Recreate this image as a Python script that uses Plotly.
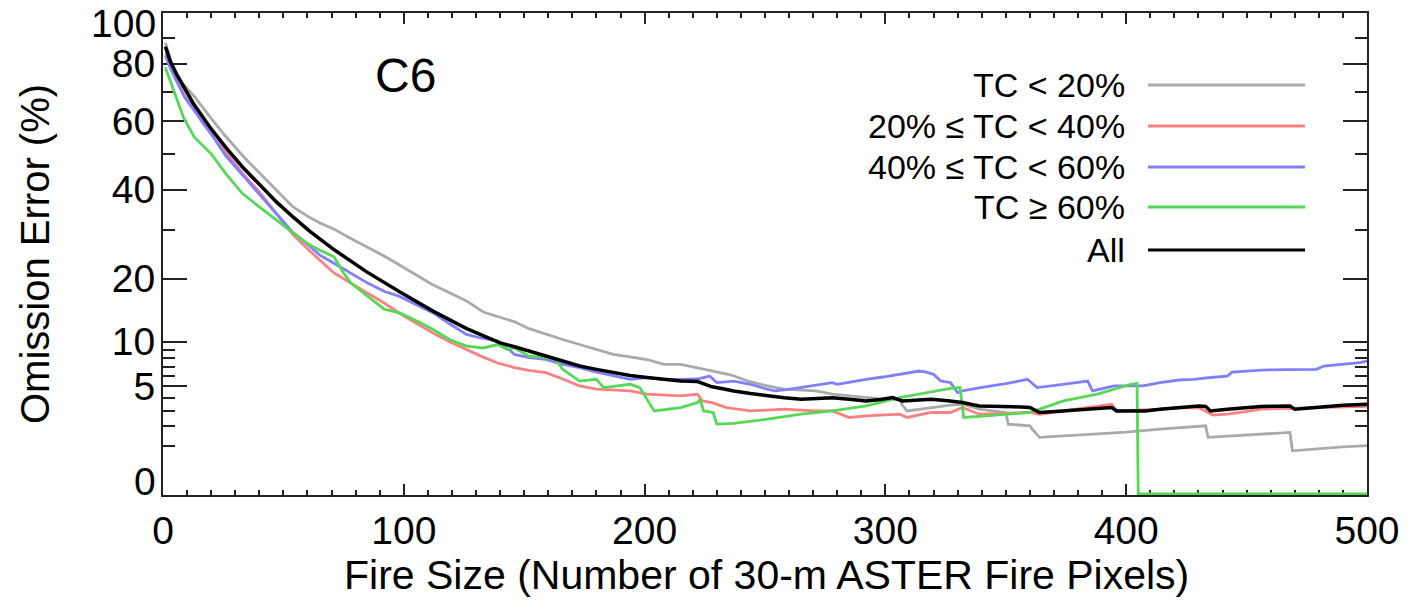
import numpy as np
import plotly.graph_objects as go

# ---------------- data (Omission error in %, vs fire size) ----------------
all_x = [1, 3, 5.6, 9, 12.6, 19.5, 26.4, 33.3, 40.3, 47.2, 54.1, 61, 70.7, 84.6, 98.4, 112.3, 126.1,
         140, 146, 152, 159, 166, 173, 180, 187, 194, 201, 208, 215, 222, 228, 233, 237, 244, 251,
         258, 265, 271, 278, 285, 292, 298, 303, 307, 313, 319, 326, 332, 339, 346, 353, 360, 364, 369,
         374, 381, 388, 394, 396, 402, 408, 414, 422, 430, 433, 435, 442, 449, 456, 462, 468, 470, 477,
         483, 490, 500]
all_y = [86.5, 81, 76.2, 70.9, 65.9, 58.1, 51.6, 46.0, 41.1, 36.8, 33.1, 29.8, 25.9, 21.3, 17.6, 14.4,
         11.8, 9.86, 9.35, 8.8, 8.2, 7.6, 7.06, 6.7, 6.35, 6.05, 5.84,
         5.65, 5.5, 5.45, 4.95, 4.75, 4.57, 4.35, 4.14, 4.0, 3.87, 3.92, 4.0, 3.87, 3.73, 3.85, 4.0, 3.73,
         3.78, 3.87, 3.75, 3.6, 3.34, 3.34, 3.28, 3.22, 2.86, 2.92, 2.97, 3.03, 3.1, 3.22, 2.97, 2.97,
         2.97, 3.1, 3.22, 3.34, 3.3, 2.97, 3.1, 3.2, 3.3, 3.32, 3.34, 3.1, 3.22, 3.34, 3.4, 3.47]

gray_x = [1, 4, 8, 13, 20, 26, 33, 40, 47, 54, 61, 65, 71, 78, 85, 92, 98, 105, 112, 119, 126, 133, 140,
          146, 152, 159, 166, 173, 180, 187, 194, 201, 208, 215, 222, 229, 236, 243, 251, 258, 265, 271,
          278, 285, 292, 299, 306, 307, 309, 314, 320, 327, 332, 339, 350, 351, 360, 361, 364, 376, 388,
          400, 414, 422, 433, 434, 445, 456, 468, 469, 480, 490, 500]
gray_y = [88, 79, 73, 68.3, 61, 55.3, 49.5, 44.5, 39.9, 35.6, 33.0, 31.8, 30.3, 28.2, 26.3, 24.4, 22.7,
          20.7, 18.9, 17.5, 16.1, 14.3, 13.5, 12.8, 11.8, 11.0, 10.3, 9.64, 9.0, 8.4, 8.1, 7.8, 7.24, 7.24,
          6.85, 6.45, 6.1, 5.5, 5.03, 4.73, 4.65, 4.58, 4.29, 4.14, 4.0, 3.87, 3.87, 3.4, 2.97, 3.1, 3.25,
          3.4, 3.47, 3.1, 2.86, 2.1, 2.0, 1.81, 1.38, 1.46, 1.54, 1.65, 1.81, 1.9, 2.0, 1.38, 1.45, 1.55,
          1.63, 0.8, 0.88, 0.95, 1.0]

red_x = [1, 3, 6, 9, 13, 16, 20, 26, 33, 40, 47, 54, 61, 65, 71, 78, 85, 92, 98, 105, 112, 119, 126, 132,
         139, 146, 152, 159, 166, 173, 180, 187, 194, 201, 208, 215, 222, 224, 228, 234, 244, 251, 258,
         265, 271, 278, 285, 292, 299, 306, 309, 314, 319, 327, 332, 339, 346, 353, 360, 364, 374, 384,
         394, 396, 405, 414, 422, 430, 436, 442, 449, 456, 468, 476, 483, 490, 500]
red_y = [84, 79, 73.5, 68.5, 64, 60, 56, 50.5, 44.5, 39.4, 34, 29, 25.5, 23.7, 21.1, 19.2, 17.4, 15.7,
         14.15, 12.6, 11.2, 10.0, 9.0, 8.2, 7.4, 6.88, 6.6, 6.35, 5.7, 5.03, 4.73, 4.65, 4.58, 4.29, 4.2,
         4.14, 4.29, 3.73, 3.6, 3.22, 2.97, 3.03, 3.1, 3.03, 2.97, 2.97, 2.52, 2.63, 2.68, 2.74, 2.52,
         2.7, 2.86, 2.86, 3.22, 2.74, 2.78, 2.82, 2.86, 2.74, 2.98, 3.2, 3.47, 2.97, 3.03, 3.1, 3.2, 3.22,
         2.68, 2.74, 2.9, 3.1, 3.15, 3.18, 3.22, 3.26, 3.30]

blue_x = [1, 3, 6, 9, 13, 20, 26, 33, 40, 47, 54, 57, 65, 71, 78, 85, 92, 98, 105, 112, 119, 126, 132,
          139, 141, 146, 152, 159, 166, 173, 180, 187, 194, 201, 208, 215, 222, 227, 230, 237, 244, 251,
          254, 259, 265, 272, 278, 280, 286, 292, 299, 306, 314, 317, 320, 323, 327, 330, 332, 340, 350,
          359, 363, 373, 384, 386, 395, 407, 414, 422, 428, 435, 442, 444, 456, 467, 479, 482, 490, 497,
          500]
blue_y = [83, 78.5, 73, 68, 63.5, 56, 49.5, 44, 39, 34, 29.5, 28.3, 24.7, 23.0, 21.0, 19.2, 17.7, 16.9,
          15.5, 14.2, 12.5, 11.0, 10.5, 10.1, 9.7, 8.4, 8.01, 7.81, 7.24, 6.88, 6.4, 6.0, 5.67, 5.84, 5.67,
          5.67, 5.7, 6.0, 5.35, 5.5, 5.19, 4.73, 4.58, 4.7, 4.88, 5.1, 5.35, 5.19, 5.45, 5.67, 5.9, 6.17,
          6.52, 6.4, 6.17, 5.5, 5.35, 4.43, 4.58, 4.9, 5.25, 5.67, 4.88, 5.15, 5.5, 4.58, 5.03, 5.03, 5.35,
          5.6, 5.67, 5.85, 6.0, 6.41, 6.62, 6.66, 6.70, 7.06, 7.25, 7.44, 7.62]

green_x = [1, 4, 8.5, 13, 20, 26, 33, 40, 47, 54, 57, 61, 65, 71, 75, 78, 85, 92, 98, 105, 112, 119, 126,
           133, 139, 143, 146, 152, 159, 163, 166, 173, 180, 183, 194, 198, 204, 215, 222, 223, 224.5,
           228.5, 230, 237, 251, 265, 278, 292, 306, 320, 327, 331, 332.5, 339, 360, 364, 374, 388, 402,
           404.5, 405, 500]
green_y = [78.6, 71.5, 61.3, 55, 50, 44.4, 39, 35.6, 32.4, 29.4, 28.2, 26.8, 25.7, 24.3, 21.1, 19.2,
           16.9, 14.7, 14.2, 13.0, 11.7, 10.3, 9.43, 9.2, 9.64, 9.0, 9.2, 8.2, 8.01, 7.81, 6.7, 5.5, 5.67,
           4.88, 5.19, 4.88, 2.97, 3.22, 3.6, 3.87, 2.97, 2.86, 2.1, 2.15, 2.41, 2.74, 2.97, 3.34, 4.0,
           4.5, 4.8, 4.88, 2.52, 2.59, 2.86, 3.1, 3.73, 4.29, 5.19, 5.28, 0, 0]

names = ["TC < 20%", "20% \u2264 TC < 40%", "40% \u2264 TC < 60%", "TC \u2265 60%", "All"]
colors = ["#aaaaaa", "#ff8080", "#8080ff", "#55d855", "#000000"]

y_major = [5, 10, 20, 40, 60, 80]
y_minor = [1, 2, 3, 4, 6, 7, 8, 9, 30, 50, 70, 90]
x_major = [0, 100, 200, 300, 400, 500]

FONT = "Liberation Sans, Arial, Helvetica, sans-serif"


def sq(v):
    return np.sqrt(np.asarray(v, dtype=float))


fig = go.Figure()
series = [(gray_x, gray_y), (red_x, red_y), (blue_x, blue_y), (green_x, green_y), (all_x, all_y)]
widths = [2.8, 2.8, 2.8, 2.8, 3.5]
for (xs, ys), name, c, w in zip(series, names, colors, widths):
    fig.add_trace(go.Scatter(x=xs, y=sq(ys), mode="lines", name=name,
                             line=dict(color=c, width=w), showlegend=False))

L, R, T, B = 163, 42, 13, 105
W, H = 1409, 600
pw, ph = W - L - R, H - T - B


def px(xp):
    return (xp - L) / pw


def py(yp):
    return (H - B - yp) / ph


annotations = [
    dict(text="C6", x=px(405), y=py(75), xref="paper", yref="paper", showarrow=False,
         font=dict(size=48, family=FONT, color="black"), xanchor="center", yanchor="middle"),
    dict(text="0", x=px(158), y=py(481), xref="paper", yref="paper", showarrow=False,
         font=dict(size=39, family=FONT, color="black"), xanchor="right", yanchor="middle"),
    dict(text="100", x=px(158), y=py(23), xref="paper", yref="paper", showarrow=False,
         font=dict(size=39, family=FONT, color="black"), xanchor="right", yanchor="middle"),
    dict(text="Fire Size (Number of 30-m ASTER Fire Pixels)", x=px(766), y=py(575),
         xref="paper", yref="paper", showarrow=False, xanchor="center", yanchor="middle",
         font=dict(size=41, family=FONT, color="black")),
    dict(text="Omission Error (%)", x=px(35), y=py(254), textangle=-90,
         xref="paper", yref="paper", showarrow=False, xanchor="center", yanchor="middle",
         font=dict(size=40, family=FONT, color="black")),
]
shapes = []
rows = [85, 126, 167, 207, 250]
for name, c, r in zip(names, colors, rows):
    annotations.append(dict(text=name, x=px(1127), y=py(r), xref="paper", yref="paper",
                            showarrow=False, xanchor="right", yanchor="middle",
                            font=dict(size=34, family=FONT, color="black")))
    shapes.append(dict(type="line", xref="paper", yref="paper", x0=px(1148), x1=px(1305),
                       y0=py(r), y1=py(r), line=dict(color=c, width=3)))

axis_common = dict(showline=True, linecolor="#222222", linewidth=2, mirror="allticks",
                   ticks="inside", tickcolor="#222222", tickwidth=2, showgrid=False,
                   zeroline=False, layer="below traces", automargin=False,
                   tickfont=dict(size=39, family=FONT, color="black"))

fig.update_layout(
    width=W, height=H, margin=dict(l=L, r=R, t=T, b=B, autoexpand=False),
    plot_bgcolor="white", paper_bgcolor="white",
    annotations=annotations, shapes=shapes,
    xaxis=dict(range=[0, 500], tickmode="array", tickvals=x_major,
               ticktext=[str(v) for v in x_major], ticklen=11, ticklabelstandoff=0,
               minor=dict(dtick=10, tick0=0, ticklen=5, ticks="inside", tickwidth=1.5,
                          tickcolor="#222222"),
               **axis_common),
    yaxis=dict(range=[-0.025, 10], tickmode="array", tickvals=sq(y_major).tolist(),
               ticktext=[str(v) for v in y_major], ticklen=24, ticklabelstandoff=-2,
               minor=dict(tickmode="array", tickvals=sq(y_minor).tolist(), ticklen=12,
                          ticks="inside", tickwidth=2, tickcolor="#222222"),
               **axis_common),
)

fig.write_html("out.html")
